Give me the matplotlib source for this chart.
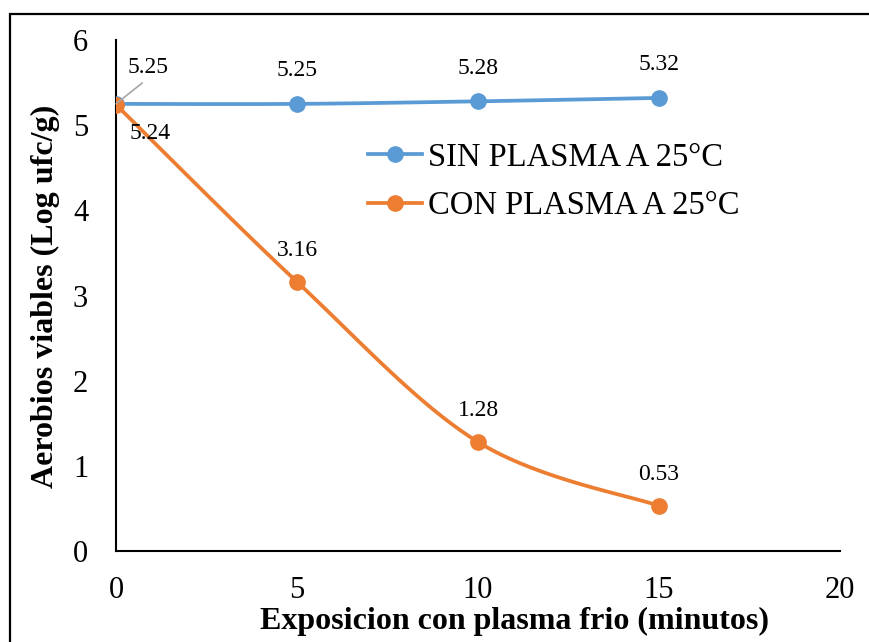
import matplotlib
matplotlib.use("Agg")
import matplotlib.pyplot as plt
import numpy as np
from matplotlib.patches import Rectangle

plt.rcParams['font.family'] = ['Liberation Serif', 'DejaVu Serif']

minutes = [0, 5, 10, 15]
sin_plasma = [5.25, 5.25, 5.28, 5.32]
con_plasma = [5.24, 3.16, 1.28, 0.53]
sin_label = "SIN PLASMA A 25°C"
con_label = "CON PLASMA A 25°C"
x_ticks = [0, 5, 10, 15, 20]
y_ticks = [0, 1, 2, 3, 4, 5, 6]

BLUE = "#5B9BD5"
ORANGE = "#ED7D31"


def smooth(xs, ys, n=40):
    """Excel-like smoothed line (Catmull-Rom Bezier)."""
    P = np.column_stack([xs, ys]).astype(float)
    out = []
    for i in range(len(P) - 1):
        p0 = P[i - 1] if i > 0 else P[i]
        p1 = P[i]
        p2 = P[i + 1]
        p3 = P[i + 2] if i + 2 < len(P) else P[i + 1]
        c1 = p1 + (p2 - p0) / 6.0
        c2 = p2 - (p3 - p1) / 6.0
        t = np.linspace(0, 1, n)[:, None]
        seg = ((1 - t) ** 3) * p1 + 3 * ((1 - t) ** 2) * t * c1 + 3 * (1 - t) * t ** 2 * c2 + t ** 3 * p2
        out.append(seg if i == 0 else seg[1:])
    S = np.vstack(out)
    return S[:, 0], S[:, 1]


fig = plt.figure(figsize=(8.69, 6.42), dpi=100)
ax = fig.add_axes([116 / 869, 1 - 551 / 642, (840 - 116) / 869, (551 - 40) / 642])

for ys, col, lab in [(sin_plasma, BLUE, sin_label), (con_plasma, ORANGE, con_label)]:
    sx, sy = smooth(minutes, ys)
    ax.plot(sx, sy, color=col, lw=2.7, solid_capstyle='round', zorder=3)
    ax.plot(minutes, ys, 'o', color=col, ms=11, zorder=4)
    ax.plot([], [], '-o', color=col, lw=2.7, ms=11, label=lab)

ax.set_xlim(0, 20)
ax.set_ylim(0, 6)
ax.set_xticks(x_ticks)
ax.set_yticks(y_ticks)
ax.tick_params(axis='both', length=0, labelsize=22)
ax.tick_params(axis='y', pad=20)
ax.tick_params(axis='x', pad=18)
for s in ['top', 'right']:
    ax.spines[s].set_visible(False)
for s in ['left', 'bottom']:
    ax.spines[s].set_linewidth(1.5)

ax.set_xlabel("Exposicion con plasma frio (minutos)", fontsize=23, fontweight='bold')
ax.set_ylabel("Aerobios viables (Log ufc/g)", fontsize=23, fontweight='bold')
ax.xaxis.label.set_va('center')
ax.yaxis.label.set_va('center')
ax.xaxis.set_label_coords((515 - 116) / 724, -(621 - 551) / 511)
ax.yaxis.set_label_coords(-(116 - 45) / 724, (551 - 296) / 511)

# data labels
lbl_kw = dict(fontsize=17, ha='center', va='center', textcoords='offset pixels', zorder=5)
for i, (x, y) in enumerate(zip(minutes, sin_plasma)):
    if i == 0:
        ax.annotate(f"{y:.2f}", (x, y), xytext=(32, 36), **lbl_kw,
                    arrowprops=dict(arrowstyle='-', color='#A6A6A6', lw=1.2,
                                    shrinkA=2, shrinkB=0, relpos=(0.5, 0.0)))
    else:
        ax.annotate(f"{y:.2f}", (x, y), xytext=(0, 33), **lbl_kw)
for i, (x, y) in enumerate(zip(minutes, con_plasma)):
    if i == 0:
        ax.annotate(f"{y:.2f}", (x, y), xytext=(34, -29), **lbl_kw)
    else:
        ax.annotate(f"{y:.2f}", (x, y), xytext=(0, 31), **lbl_kw)

leg = ax.legend(loc='upper left', bbox_to_anchor=((368 - 116) / 724, (551 - 142) / 511),
                frameon=False, fontsize=23.5, handlelength=1.65, handletextpad=0.2,
                labelspacing=0.55, borderaxespad=0, borderpad=0)

# outer chart frame (cropped in the reference)
fig.add_artist(Rectangle((10 / 869, -0.2), 1.5, 1.2 - 14 / 642, transform=fig.transFigure,
                         fill=False, edgecolor='black', lw=1.6))

fig.savefig("out.png", dpi=100)
